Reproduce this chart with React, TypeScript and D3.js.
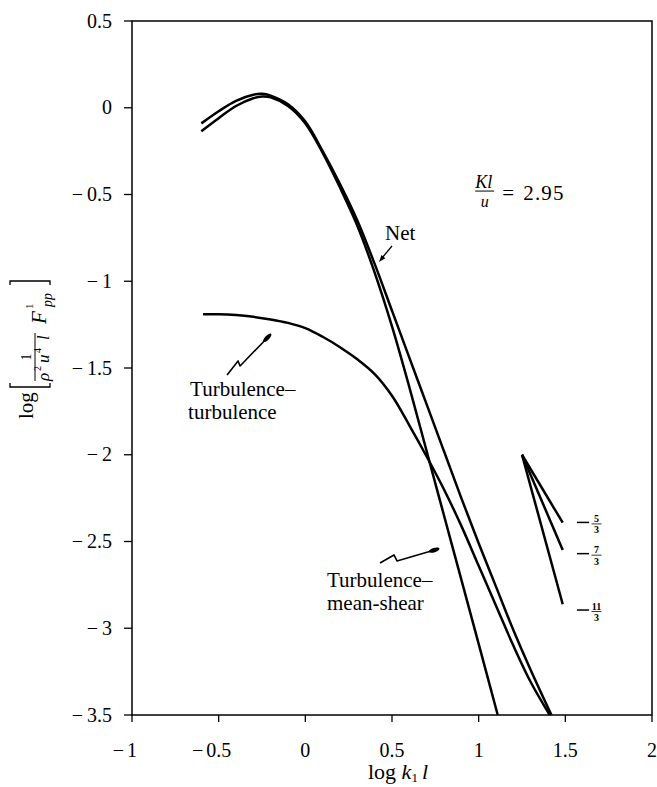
import React, { useEffect, useRef } from "react";
import * as d3 from "d3";

// axis ticks
const xTicks = [-1, -0.5, 0, 0.5, 1, 1.5, 2];
const yTicks = [0.5, 0, -0.5, -1, -1.5, -2, -2.5, -3, -3.5];

// Net spectrum
const netX = [-0.6, -0.5, -0.4, -0.3, -0.25, -0.2, -0.1, 0, 0.1, 0.2, 0.3, 0.4, 0.5, 0.6, 0.7, 0.8, 0.9, 1.0, 1.1, 1.2, 1.3, 1.42];
const netY = [-0.09, -0.02, 0.04, 0.075, 0.08, 0.07, 0.02, -0.08, -0.25, -0.44, -0.65, -0.9, -1.17, -1.44, -1.71, -1.98, -2.25, -2.51, -2.76, -3.01, -3.24, -3.5];

// turbulence-mean-shear
const shearX = [-0.6, -0.5, -0.4, -0.3, -0.25, -0.2, -0.1, 0, 0.1, 0.2, 0.3, 0.4, 0.5, 0.6, 0.7, 0.8, 0.9, 1.0, 1.11];
const shearY = [-0.135, -0.06, 0.01, 0.055, 0.065, 0.06, 0.01, -0.09, -0.26, -0.46, -0.68, -0.95, -1.26, -1.61, -1.98, -2.35, -2.72, -3.09, -3.5];

// turbulence-turbulence
const turbX = [-0.59, -0.5, -0.4, -0.3, -0.2, -0.1, 0, 0.1, 0.2, 0.3, 0.4, 0.5, 0.6, 0.7, 0.8, 0.9, 1.0, 1.1, 1.2, 1.3, 1.41];
const turbY = [-1.19, -1.19, -1.195, -1.205, -1.22, -1.24, -1.27, -1.32, -1.38, -1.45, -1.535, -1.66, -1.83, -2.01, -2.2, -2.41, -2.64, -2.87, -3.1, -3.31, -3.5];

// reference slopes
const slopeOrigin = [1.25, -2.0];
const slopeEndX = 1.485;
const slopes = [-5 / 3, -7 / 3, -11 / 3];
const slopeNum = ["5", "7", "11"];
const slopeDen = ["3", "3", "3"];
const slopeLabelY = [-2.39, -2.57, -2.895];

const FONT = "'Liberation Serif', 'Times New Roman', serif";

export default function App() {
	const svgRef = useRef<SVGSVGElement>(null);

	useEffect(() => {
		const svg = d3.select(svgRef.current);
		svg.selectAll("*").remove();
		svg.attr("font-family", FONT);

		const x = d3.scaleLinear().domain([-1, 2]).range([132, 652]);
		const y = d3.scaleLinear().domain([-3.5, 0.5]).range([715, 21]);

		// frame
		svg
			.append("rect")
			.attr("x", x(-1))
			.attr("y", y(0.5))
			.attr("width", x(2) - x(-1))
			.attr("height", y(-3.5) - y(0.5))
			.attr("fill", "none")
			.attr("stroke", "#000")
			.attr("stroke-width", 1.5);

		// y ticks + labels (minus hangs to the left)
		yTicks.forEach((t) => {
			svg
				.append("line")
				.attr("x1", x(-1) - 8)
				.attr("x2", x(-1))
				.attr("y1", y(t))
				.attr("y2", y(t))
				.attr("stroke", "#000")
				.attr("stroke-width", 1.3);
			const num = svg
				.append("text")
				.attr("x", 112)
				.attr("y", y(t))
				.attr("dy", "0.33em")
				.attr("text-anchor", "end")
				.attr("font-size", 20)
				.text(String(Math.abs(t)));
			if (t < 0) {
				const w = (num.node() as SVGTextElement).getComputedTextLength();
				svg
					.append("text")
					.attr("x", 112 - w - 4)
					.attr("y", y(t))
					.attr("dy", "0.33em")
					.attr("text-anchor", "end")
					.attr("font-size", 20)
					.text("\u2212");
			}
		});

		// x ticks + labels
		xTicks.forEach((t) => {
			svg
				.append("line")
				.attr("x1", x(t))
				.attr("x2", x(t))
				.attr("y1", y(-3.5))
				.attr("y2", y(-3.5) + 7)
				.attr("stroke", "#000")
				.attr("stroke-width", 1.3);
			const num = svg
				.append("text")
				.attr("x", x(t))
				.attr("y", 757)
				.attr("text-anchor", "middle")
				.attr("font-size", 20)
				.text(String(Math.abs(t)));
			if (t < 0) {
				const w = (num.node() as SVGTextElement).getComputedTextLength();
				svg
					.append("text")
					.attr("x", x(t) - w / 2 - 3)
					.attr("y", 757)
					.attr("text-anchor", "end")
					.attr("font-size", 20)
					.text("\u2212");
			}
		});

		// x axis title: log k1 l
		const xt = svg
			.append("text")
			.attr("x", 398)
			.attr("y", 779)
			.attr("text-anchor", "middle")
			.attr("font-size", 22);
		xt.append("tspan").text("log ");
		xt.append("tspan").attr("font-style", "italic").text("k");
		xt.append("tspan").attr("font-size", 13).attr("dy", 3).text("1");
		xt.append("tspan").attr("font-style", "italic").attr("dy", -3).attr("dx", 4).text("l");

		// y axis title, rotated: local (x, y) = (-pageY, pageX)
		const yt = svg.append("g").attr("transform", "rotate(-90)");
		yt.append("text").attr("x", -419).attr("y", 33).attr("font-size", 21).text("log");
		yt.append("path")
			.attr("d", "M-383,10H-387V50H-383")
			.attr("fill", "none")
			.attr("stroke", "#000")
			.attr("stroke-width", 1.3);
		yt.append("path")
			.attr("d", "M-285,10H-281V50H-285")
			.attr("fill", "none")
			.attr("stroke", "#000")
			.attr("stroke-width", 1.3);
		yt.append("text").attr("x", -357).attr("y", 31).attr("text-anchor", "middle").attr("font-size", 14).text("1");
		yt.append("line").attr("x1", -381).attr("x2", -333).attr("y1", 35).attr("y2", 35).attr("stroke", "#000").attr("stroke-width", 1);
		const den = [
			{ t: "\u03c1", x: -381, y: 49, s: 17, i: true },
			{ t: "2", x: -371, y: 41, s: 10, i: false },
			{ t: "u", x: -363, y: 49, s: 17, i: true },
			{ t: "4", x: -353, y: 41, s: 10, i: false },
			{ t: "l", x: -340, y: 49, s: 17, i: true },
			{ t: "F", x: -324, y: 46, s: 21, i: true },
			{ t: "1", x: -309, y: 33, s: 11, i: false },
			{ t: "pp", x: -307, y: 52, s: 14, i: true },
		];
		den.forEach((d) => {
			yt.append("text")
				.attr("x", d.x)
				.attr("y", d.y)
				.attr("font-size", d.s)
				.attr("font-style", d.i ? "italic" : "normal")
				.text(d.t);
		});

		// curves
		const line = d3
			.line<number[]>()
			.x((d) => x(d[0]))
			.y((d) => y(d[1]))
			.curve(d3.curveCatmullRom.alpha(0.5));

		const series = [
			{ xs: shearX, ys: shearY },
			{ xs: netX, ys: netY },
			{ xs: turbX, ys: turbY },
		];
		series.forEach((s) => {
			svg
				.append("path")
				.attr("d", line(s.xs.map((v, i) => [v, s.ys[i]])))
				.attr("fill", "none")
				.attr("stroke", "#000")
				.attr("stroke-width", 2.5)
				.attr("stroke-linejoin", "round");
		});

		// reference slope lines
		slopes.forEach((m, i) => {
			const ey = slopeOrigin[1] + m * (slopeEndX - slopeOrigin[0]);
			svg
				.append("line")
				.attr("x1", x(slopeOrigin[0]))
				.attr("y1", y(slopeOrigin[1]))
				.attr("x2", x(slopeEndX))
				.attr("y2", y(ey))
				.attr("stroke", "#000")
				.attr("stroke-width", 2.5);
			const ly = y(slopeLabelY[i]);
			svg
				.append("line")
				.attr("x1", x(1.567))
				.attr("x2", x(1.637))
				.attr("y1", ly)
				.attr("y2", ly)
				.attr("stroke", "#000")
				.attr("stroke-width", 1.5);
			const cx = x(1.68);
			svg
				.append("text")
				.attr("x", cx)
				.attr("y", ly - 0.5)
				.attr("text-anchor", "middle")
				.attr("font-size", 10)
				.attr("font-weight", "bold")
				.text(slopeNum[i]);
			svg
				.append("line")
				.attr("x1", cx - 5)
				.attr("x2", cx + 5)
				.attr("y1", ly + 1.5)
				.attr("y2", ly + 1.5)
				.attr("stroke", "#000")
				.attr("stroke-width", 0.8);
			svg
				.append("text")
				.attr("x", cx)
				.attr("y", ly + 11)
				.attr("text-anchor", "middle")
				.attr("font-size", 10)
				.attr("font-weight", "bold")
				.text(slopeDen[i]);
		});

		// Kl/u = 2.95
		const kg = svg.append("g").attr("transform", `translate(${x(0.98)},${y(-0.532)})`);
		kg.append("text").attr("x", 0).attr("y", -12).attr("font-size", 18).attr("font-style", "italic").text("Kl");
		kg.append("line").attr("x1", 0).attr("x2", 19).attr("y1", -9).attr("y2", -9).attr("stroke", "#000").attr("stroke-width", 1);
		kg.append("text").attr("x", 9.5).attr("y", 7).attr("text-anchor", "middle").attr("font-size", 16).attr("font-style", "italic").text("u");
		kg.append("text").attr("x", 27).attr("y", 0).attr("font-size", 21).text("=");
		kg.append("text").attr("x", 48).attr("y", 0).attr("font-size", 21).attr("letter-spacing", 1.2).text("2.95");

		// Net label + arrow
		svg.append("text").attr("x", x(0.46)).attr("y", y(-0.762)).attr("font-size", 21).text("Net");
		const ax1 = x(0.5), ay1 = y(-0.797), ax2 = x(0.425), ay2 = y(-0.889);
		svg.append("line").attr("x1", ax1).attr("y1", ay1).attr("x2", ax2 + 3).attr("y2", ay2 - 4).attr("stroke", "#000").attr("stroke-width", 1.3);
		const ang = Math.atan2(ay2 - ay1, ax2 - ax1);
		const head = (px: number, py: number, a: number, len: number, wid: number) => {
			const bx = px - len * Math.cos(a), by = py - len * Math.sin(a);
			const nx = -Math.sin(a) * wid, ny = Math.cos(a) * wid;
			return `M${px},${py}L${bx + nx},${by + ny}L${bx - nx},${by - ny}Z`;
		};
		svg.append("path").attr("d", head(ax2, ay2, ang, 7, 2.5)).attr("fill", "#000");

		// squiggle pointers
		const squiggle = (ox: number, oy: number, pts: number[][]) => {
			const g = svg.append("g").attr("transform", `translate(${ox},${oy})`);
			g.append("path")
				.attr("d", "M" + pts.map((p) => p.join(",")).join("L"))
				.attr("fill", "none")
				.attr("stroke", "#000")
				.attr("stroke-width", 1.6)
				.attr("stroke-linejoin", "round");
			const n = pts.length;
			const a = Math.atan2(pts[n - 1][1] - pts[n - 2][1], pts[n - 1][0] - pts[n - 2][0]);
			const cx = pts[n - 1][0] - 4 * Math.cos(a), cy = pts[n - 1][1] - 4 * Math.sin(a);
			g.append("ellipse")
				.attr("cx", cx)
				.attr("cy", cy)
				.attr("rx", 5.5)
				.attr("ry", 2.2)
				.attr("transform", `rotate(${(a * 180) / Math.PI},${cx},${cy})`)
				.attr("fill", "#000");
		};

		// Turbulence-turbulence
		const tx = x(-0.665), ty = y(-1.661);
		svg.append("text").attr("x", tx).attr("y", ty).attr("font-size", 21).text("Turbulence\u2013");
		svg.append("text").attr("x", tx - 2).attr("y", ty + 23).attr("font-size", 21).text("turbulence");
		squiggle(tx, ty, [[37, -21], [48, -35], [50, -30], [80, -61]]);

		// Turbulence-mean-shear
		const mx = x(0.125), my = y(-2.762);
		svg.append("text").attr("x", mx).attr("y", my).attr("font-size", 21).text("Turbulence\u2013");
		svg.append("text").attr("x", mx).attr("y", my + 23).attr("font-size", 21).text("mean-shear");
		squiggle(mx, my, [[53, -24], [67, -32], [70, -26], [111, -38]]);
	}, []);

	return (
		<svg
			ref={svgRef}
			width={657}
			height={787}
			style={{ position: "absolute", left: 0, top: 0, background: "#fff" }}
		/>
	);
}
